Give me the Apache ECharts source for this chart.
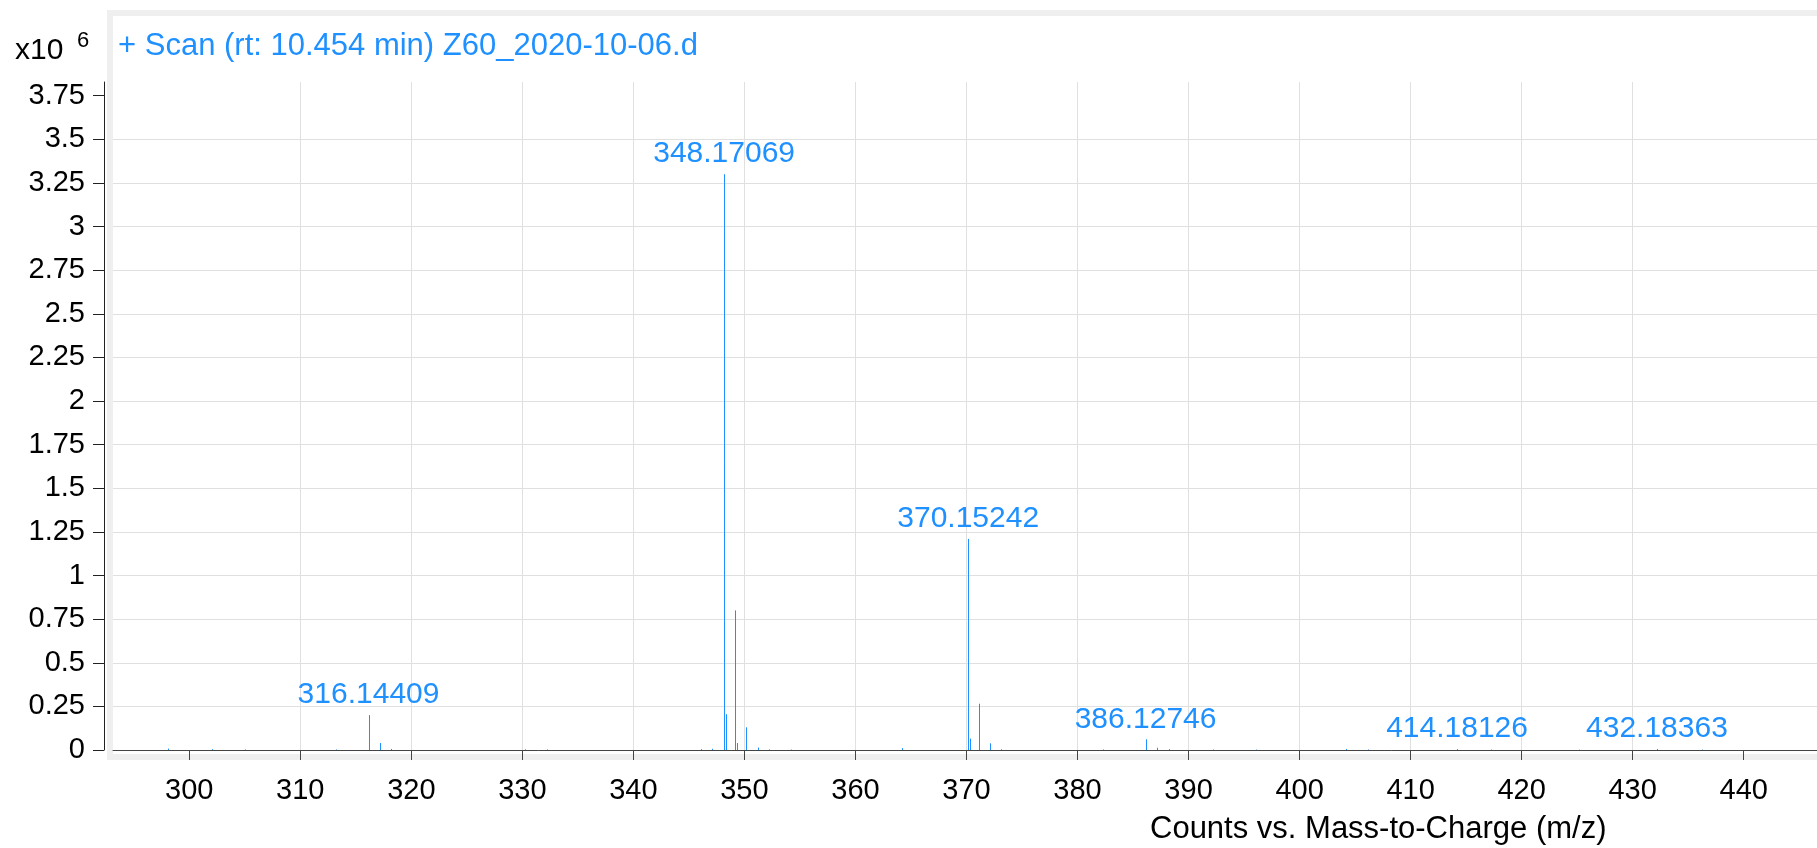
<!DOCTYPE html>
<html>
<head>
<meta charset="utf-8">
<script src="https://cdn.jsdelivr.net/npm/echarts@6/dist/echarts.min.js"></script>
<style>
  html, body { margin: 0; padding: 0; background: #fff; }
  #chart { width: 1817px; height: 848px; }
</style>
</head>
<body>
<div id="chart"></div>
<script>
// ---- data (m/z, counts) ----
const mz = [298.10, 302.08, 305.05, 313.20, 316.14409, 317.15, 318.15, 330.20, 332.20,
            346.10, 347.10, 348.17069, 348.35, 349.17, 349.35, 350.17, 351.18, 352.20, 354.20,
            364.22, 370.15242, 370.33, 371.155, 372.16, 373.10, 382.30, 386.12746, 387.13, 388.20,
            392.20, 396.10, 404.18, 406.20, 414.18126, 417.20, 425.20, 432.18363, 436.20];
const intensity = [8000, 5000, 3000, 3000, 200000, 40000, 6000, 4000, 3000,
                   5000, 7000, 3300000, 205000, 800000, 40000, 130000, 14000, 3000, 2500,
                   11000, 1210000, 65000, 265000, 38000, 4000, 3000, 61000, 13000, 5000,
                   2500, 2500, 6000, 3000, 5000, 2500, 2000, 6000, 2500];
const labelMz = [316.14409, 348.17069, 370.15242, 386.12746, 414.18126, 432.18363];
const labelIntensity = [200000, 3300000, 1210000, 61000, 5000, 6000];
const labelText = ['316.14409', '348.17069', '370.15242', '386.12746', '414.18126', '432.18363'];
const xTicks = [300, 310, 320, 330, 340, 350, 360, 370, 380, 390, 400, 410, 420, 430, 440];
const yTicks = [0, 250000, 500000, 750000, 1000000, 1250000, 1500000, 1750000, 2000000,
                2250000, 2500000, 2750000, 3000000, 3250000, 3500000, 3750000];
const titleText = '+ Scan (rt: 10.454 min) Z60_2020-10-06.d';
const xName = 'Counts vs. Mass-to-Charge (m/z)';

const FONT = '"Liberation Sans", Arial, sans-serif';
const BLUE = '#1E90FF';

const sticks = mz.map((m, i) => [m, intensity[i]]);
const labels = labelMz.map((m, i) => [m, labelIntensity[i], labelText[i]]);

const chart = echarts.init(document.getElementById('chart'), null, { renderer: 'canvas' });
chart.setOption({
  animation: false,
  backgroundColor: '#ffffff',
  title: [
    { text: titleText, left: 118, top: 31, padding: 0,
      textStyle: { fontFamily: FONT, fontSize: 31, fontWeight: 'normal', color: BLUE } },
    { text: 'x10', left: 15, top: 36, padding: 0,
      textStyle: { fontFamily: FONT, fontSize: 30, fontWeight: 'normal', color: '#000' } },
    { text: '6', left: 77, top: 30, padding: 0,
      textStyle: { fontFamily: FONT, fontSize: 22, fontWeight: 'normal', color: '#000' } },
    { text: xName, left: 1150, top: 814, padding: 0,
      textStyle: { fontFamily: FONT, fontSize: 31, fontWeight: 'normal', color: '#000' } }
  ],
  graphic: [
    { type: 'rect', z: -100, silent: true,
      shape: { x: 110, y: 13, width: 1720, height: 744 },
      style: { fill: 'transparent', stroke: '#efefef', lineWidth: 6 } }
  ],
  grid: { left: 113, right: 0, top: 82, bottom: 98, containLabel: false },
  xAxis: {
    type: 'value', min: 293.13, max: 446.6, splitNumber: 15, minInterval: 10, maxInterval: 10,
    offset: 12,
    axisLine: { show: true, lineStyle: { color: '#444', width: 1 } },
    axisTick: { show: true, length: 10, lineStyle: { color: '#444' }, customValues: xTicks },
    axisLabel: { customValues: xTicks, margin: 14, color: '#000', fontFamily: FONT, fontSize: 29 },
    splitLine: { show: true, showMinLine: false, showMaxLine: false, lineStyle: { color: '#e0e0e0', width: 1 } }
  },
  yAxis: {
    type: 'value', min: 0, max: 3828500, interval: 250000, offset: 9,
    axisLine: { show: true, lineStyle: { color: '#222', width: 1 } },
    axisTick: { show: true, length: 11, lineStyle: { color: '#222' }, customValues: yTicks },
    axisLabel: { customValues: yTicks, margin: 19, color: '#000', fontFamily: FONT, fontSize: 29,
                 formatter: v => String(v / 1e6) },
    splitLine: { show: true, showMaxLine: false, lineStyle: { color: '#e0e0e0', width: 1 } }
  },
  series: [
    {
      type: 'custom', clip: true, data: sticks, z: 3,
      renderItem: function (params, api) {
        const x = api.value(0), y = api.value(1);
        const p0 = api.coord([x, 0]);
        const p1 = api.coord([x, y]);
        const px = Math.round(p0[0]) + 0.5;
        return { type: 'line', shape: { x1: px, y1: p0[1], x2: px, y2: p1[1] },
                 style: { stroke: BLUE, lineWidth: 1 } };
      }
    },
    {
      type: 'custom', clip: false, data: labels, z: 4,
      renderItem: function (params, api) {
        const p = api.coord([api.value(0), api.value(1)]);
        return { type: 'text', x: p[0], y: p[1] - 20,
                 style: { text: labelText[params.dataIndex], fill: BLUE, align: 'center',
                          verticalAlign: 'middle', font: '30px ' + FONT } };
      }
    }
  ]
});
</script>
</body>
</html>
